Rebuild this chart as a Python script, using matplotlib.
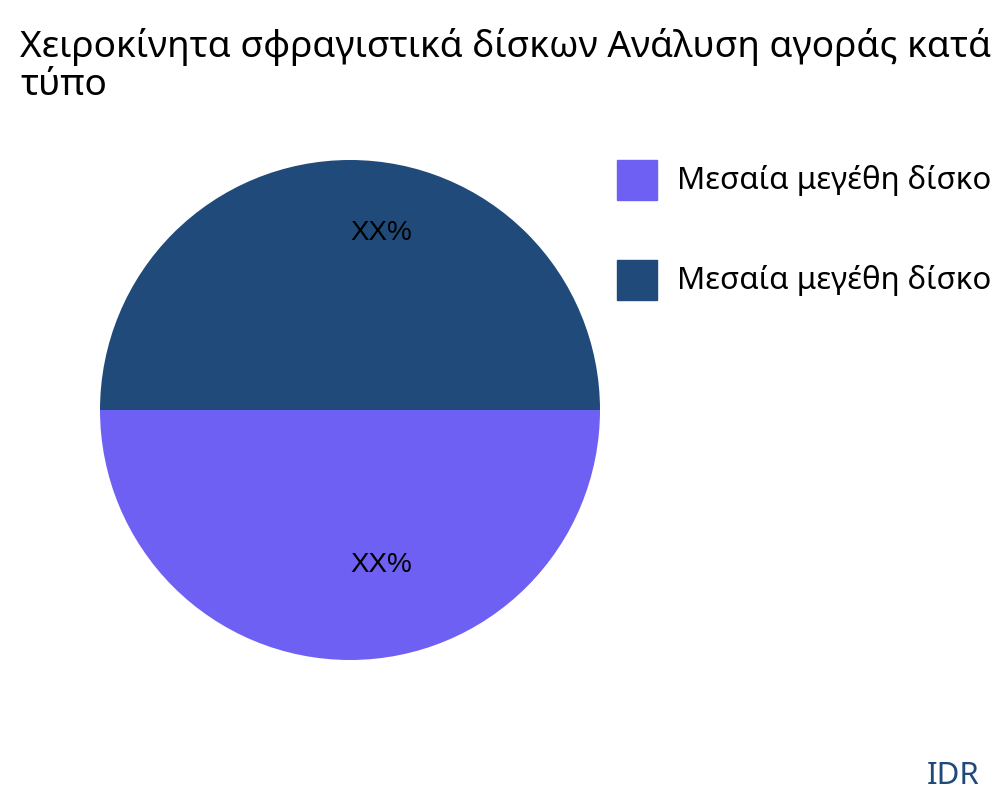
import numpy as np
import matplotlib.pyplot as plt
from matplotlib.patches import Rectangle

plt.rcParams['font.family'] = ['Noto Sans', 'DejaVu Sans']

title = "Χειροκίνητα σφραγιστικά δίσκων Ανάλυση αγοράς κατά\nτύπο"
labels = ["Μεσαία μεγέθη δίσκο", "Μεσαία μεγέθη δίσκο"]
values = [50, 50]
colors = ["#6e60f2", "#1f4a7a"]
slice_text = ["XX%", "XX%"]
text_dist = [0.62, 0.71]

fig = plt.figure(figsize=(10, 8), dpi=100)
ax = fig.add_axes([0.1, 0.175, 0.5, 0.625])
wedges, _ = ax.pie(values, colors=colors, startangle=180, counterclock=True,
                   wedgeprops=dict(linewidth=0))
ax.set_xlim(-1, 1)
ax.set_ylim(-1, 1)
ax.set_aspect('equal')
ax.axis('off')

# slice labels, a bit right of the centre line like the original
for w, t, d in zip(wedges, slice_text, text_dist):
    ang = np.deg2rad((w.theta1 + w.theta2) / 2)
    ax.text(0.124 + d * np.cos(ang), d * np.sin(ang), t,
            ha='center', va='center', fontsize=20, family='Liberation Sans')

fig.text(0.02, 0.965, title, fontsize=26.7, va='top', ha='left', linespacing=1.08)

# legend drawn by hand
for i, (lab, c) in enumerate(zip(labels, colors)):
    y = 0.75 - i * 0.125
    fig.add_artist(Rectangle((0.617, y), 0.04, 0.05, color=c, transform=fig.transFigure))
    fig.text(0.677, y + 0.025, lab, fontsize=22.5, va='center', ha='left')

fig.text(0.98, 0.03, "IDR", fontsize=22.5, color="#1f4a7a", ha='right', va='center')

fig.savefig("out.png", dpi=100)
